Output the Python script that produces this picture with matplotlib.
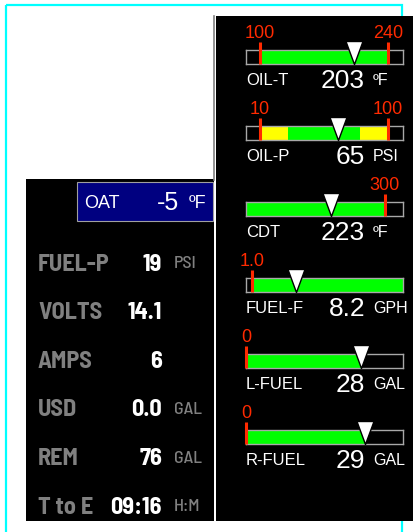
import matplotlib.pyplot as plt
from matplotlib import font_manager
from matplotlib.font_manager import FontProperties
from matplotlib.patches import Rectangle
from matplotlib.path import Path

W, H = 413, 532

# right column: engine gauges
gauge_names = ['OIL-T', 'OIL-P', 'CDT', 'FUEL-F', 'L-FUEL', 'R-FUEL']
gauge_values = [203, 65, 223, 8.2, 28, 29]
gauge_readouts = ['203', '65', '223', '8.2', '28', '29']
gauge_units = ['ºF', 'PSI', 'ºF', 'GPH', 'GAL', 'GAL']
scale_min = [84.7, 0.2, 100, 0.0, 0, 0]
scale_max = [256.4, 110.5, 326, 25.7, 38.3, 38.4]
limit_marks = [[100, 240], [10, 100], [300], [1.0], [0], [0]]
limit_labels = [['100', '240'], ['10', '100'], ['300'], ['1.0'], ['0'], ['0']]
bands = [
    [(100, 240, 'normal')],
    [(10, 30, 'caution'), (30, 80, 'normal'), (80, 100, 'caution')],
    [(100, 300, 'normal')],
    [(1.0, 25.7, 'normal')],
    [(0, 28, 'normal')],
    [(0, 29, 'normal')],
]

# left column: readouts
info_labels = ['FUEL-P', 'VOLTS', 'AMPS', 'USD', 'REM', 'T to E']
info_values = ['19', '14.1', '6', '0.0', '76', '09:16']
info_units = ['PSI', '', '', 'GAL', 'GAL', 'H:M']
oat_value = '-5'
oat_unit = 'ºF'

RED = '#ff2a00'
band_colors = {'normal': '#00ff00', 'caution': '#ffff00'}
GRAY_TXT = '#808080'
SANS = 'Liberation Sans'

# narrow faces for the left readouts
files = {f.fname.split('/')[-1]: f.fname for f in font_manager.fontManager.ttflist}


def pick(*cands):
    for c in cands:
        if c in files:
            return files[c]
    return None


narrow_bold = pick('BarlowSemiCondensed-Bold.ttf', 'AsapCondensed-Bold.ttf',
                   'DejaVuSansCondensed-Bold.ttf')
narrow_med = pick('BarlowSemiCondensed-Medium.ttf', 'AsapCondensed-Medium.ttf',
                  'DejaVuSansCondensed.ttf')


def narrow(path, size):
    if path:
        return FontProperties(fname=path, size=size)
    return FontProperties(family='DejaVu Sans', weight='bold', size=size)


fig = plt.figure(figsize=(W / 100, H / 100), dpi=100)
fig.patch.set_facecolor('white')

bg = fig.add_axes([0, 0, 1, 1])
bg.set_xlim(0, W)
bg.set_ylim(H, 0)
bg.axis('off')


def px_axes(x, y, w, h):
    return fig.add_axes([x / W, 1 - (y + h) / H, w / W, h / H])


def label(x, yc, s, size, fp=None, cap=0.36, weight='normal', **kw):
    # place text by the visual centre of its capitals
    if fp is None:
        fp = FontProperties(family=SANS, size=size, weight=weight)
    bg.text(x, yc + cap * size * 100 / 72, s, va='baseline',
            fontproperties=fp, **kw)


# frame and panels
bg.add_patch(Rectangle((6, 5), 396, 540, fill=False, ec='#00ffff', lw=1.6))
bg.plot([213.5, 213.5], [16, 180], color='#808080', lw=1.2)
bg.add_patch(Rectangle((26, 179), 188, 342, color='black', lw=0))
bg.add_patch(Rectangle((216, 16), 197, 505, color='black', lw=0))
bg.add_patch(Rectangle((77, 182), 136, 39, fc='#000080', ec='#a0a0a0', lw=0.8))

# OAT box
label(84, 201, 'OAT', 13, color='white')
label(179, 201, oat_value, 18, color='white', ha='right')
label(189, 201, oat_unit, 13, color='white')

# left readouts
for i, lab in enumerate(info_labels):
    yc = 262 + 48.6 * i
    label(38, yc, lab, 17.5, fp=narrow(narrow_bold, 17.5), cap=0.35,
          color=GRAY_TXT)
    label(162, yc, info_values[i], 17.5, fp=narrow(narrow_bold, 17.5),
          cap=0.35, color='white', ha='right')
    if info_units[i]:
        label(174, yc, info_units[i], 13, fp=narrow(narrow_med, 13),
              cap=0.35, color=GRAY_TXT)

# pointer: downward triangle with apex at the origin
tri = Path([(-8.5, 23), (8.5, 23), (0, 0), (-8.5, 23)],
           [Path.MOVETO, Path.LINETO, Path.LINETO, Path.CLOSEPOLY])

for i, name in enumerate(gauge_names):
    top = 50 + 76 * i
    ax = px_axes(246, top, 157, 14)
    ax.set_xlim(scale_min[i], scale_max[i])
    ax.set_ylim(0, 1)
    ax.set_facecolor('black')
    ax.set_xticks([])
    ax.set_yticks([])
    for s in ax.spines.values():
        s.set_color('#a8a8a8')
        s.set_linewidth(1)
    for a, b, kind in bands[i]:
        ax.axvspan(a, b, color=band_colors[kind], lw=0)
    for m, txt in zip(limit_marks[i], limit_labels[i]):
        ax.plot([m, m], [0, 1.55], color=RED, lw=2.2, clip_on=False,
                solid_capstyle='butt', zorder=4)
        ax.text(m, 1 + 19 / 14 - 0.36 * 13 * 100 / 72 / 14, txt, color=RED,
                fontsize=13, family=SANS, ha='center', va='baseline')
    ax.plot(gauge_values[i], 0, marker=tri, ms=46 * 0.72, mfc='white',
            mec='black', mew=1, clip_on=False, zorder=5)

    label(246, top + 29, name, 12, color='white')
    label(365, top + 28, gauge_readouts[i], 19, color='white', ha='right')
    label(373, top + 29, gauge_units[i], 11.5, color='white')

fig.savefig('out.png', dpi=100, facecolor='white')
